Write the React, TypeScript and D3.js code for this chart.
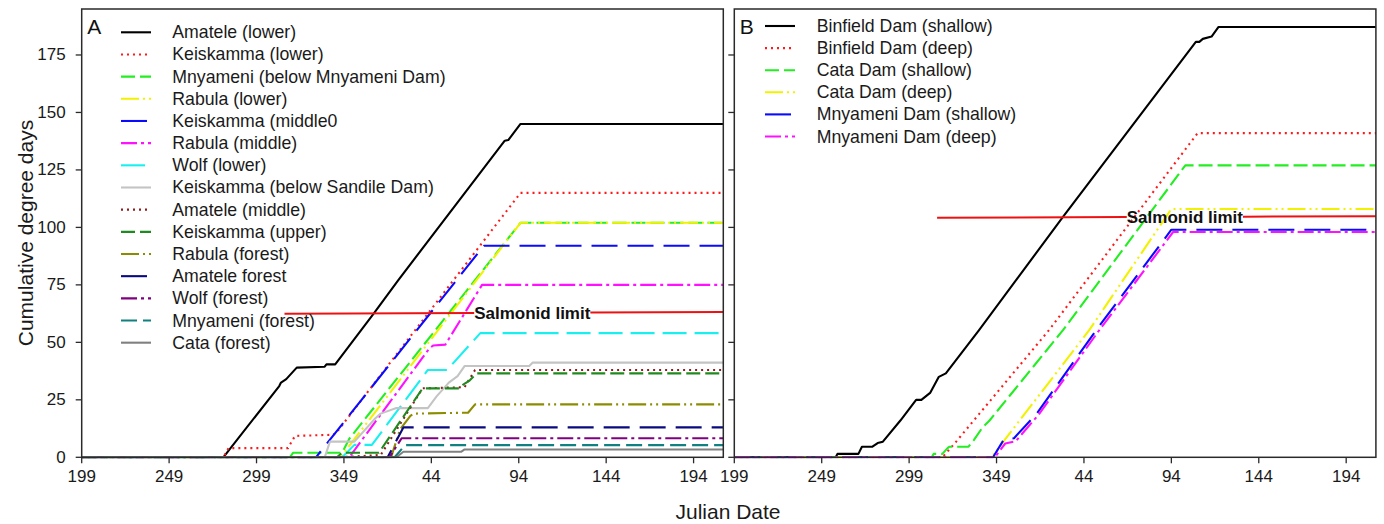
import React, { useRef, useEffect } from "react";
import * as d3 from "d3";

// ---------- axis ticks ----------
const xTickValues = [199, 249, 299, 349, 399, 449, 499, 549];
const xTickLabels = ["199", "249", "299", "349", "44", "94", "144", "194"];
const yTickValues = [0, 25, 50, 75, 100, 125, 150, 175];
const xDomain = [199, 566];
const yDomain = [0, 195];

// ---------- Panel A series: [sequential day, cumulative degree days] ----------
const amateleLower = [[199,0],[280,0],[312,31],[313,32.5],[316,34],[322,39],[338,39.4],[339,40.4],[344,40.4],[366,62.5],[380,77],[441,137.7],[443,138],[446,141],[450,145],[566,145]];
const keiskammaLower = [[199,0],[280,0],[283,4],[317,4],[321,9.3],[343,9.8],[346,12],[450,115],[566,115]];
const mnyameniBelowDam = [[199,0],[318,0],[320,2],[348,2],[352,8],[450,102],[566,102]];
const rabulaLower = [[199,0],[347,0],[450,102],[566,102]];
const keiskammaMiddle = [[199,0],[333,0],[429,92],[566,92]];
const rabulaMiddle = [[199,0],[352,0],[398,47.5],[400,48.6],[407,49],[428,75],[566,75]];
const wolfLower = [[199,0],[348,0],[355,5.4],[365,5.4],[397,38],[408,38],[427,54],[566,54]];
const keiskammaSandile = [[199,0],[338,0],[341,6.8],[355,6.8],[367,17],[370,19],[379,21.4],[397,21.4],[402,26.5],[409,32.5],[414,35.3],[418,39.7],[455,39.7],[457,41.2],[566,41.2]];
const amateleMiddle = [[199,0],[346,0],[370,1],[394,30],[418,30.5],[424,38],[566,38]];
const keiskammaUpper = [[199,0],[345,0],[348,2],[369,2],[394,30],[415,30],[417,31.5],[421,33.5],[425,36.5],[566,36.5]];
const rabulaForest = [[199,0],[376,0],[381,12],[387,18],[389,19],[420,19.4],[424,23],[566,23]];
const amateleForest = [[199,0],[374,0],[383,13],[566,13]];
const wolfForest = [[199,0],[375,0],[382,8.3],[566,8.3]];
const mnyameniForest = [[199,0],[378,0],[384,5.3],[566,5.3]];
const cataForest = [[199,0],[379,0],[383,2.4],[416,2.4],[418,3.4],[566,3.4]];

// ---------- Panel B series ----------
const binfieldShallow = [[199,0],[257,0],[258,1.5],[270,1.5],[272,4.6],[278,4.6],[281,6.2],[284,6.8],[294,16],[303,25],[306,25],[311,28],[316,35],[320,36.5],[339,55.3],[387,104.6],[463,180.7],[465,180.7],[467,182],[472,183],[476,187.2],[566,187.2]];
const binfieldDeep = [[199,0],[318,0],[325,6],[379,55.3],[464,141],[566,141]];
const cataShallow = [[199,0],[312,0],[313,1.5],[318,1.5],[321,4],[322,4.6],[333,4.6],[336,7.5],[341,13],[345,16],[387,55.3],[457,127],[566,127]];
const cataDeep = [[199,0],[346,0],[402,55.3],[449,108],[566,108]];
const mnyameniShallow = [[199,0],[347,0],[353,7.5],[359,8.3],[372,19],[406,55.3],[449,99],[566,99]];
const mnyameniDeep = [[199,0],[348,0],[354,6],[360,7],[373,18.5],[407,54.5],[450,98],[566,98]];

// ---------- Salmonid limit lines ----------
const salmonidA = [[315, 62.4], [566, 63.2]];
const salmonidB = [[315, 104.2], [566, 104.9]];
const salmonidLabelDay = 423.5;
const salmonidLabel = "Salmonid limit";

// ---------- series names & styles ----------
const namesA = ["Amatele (lower)", "Keiskamma (lower)", "Mnyameni (below Mnyameni Dam)", "Rabula (lower)", "Keiskamma (middle0", "Rabula (middle)", "Wolf (lower)", "Keiskamma (below Sandile Dam)", "Amatele (middle)", "Keiskamma (upper)", "Rabula (forest)", "Amatele forest", "Wolf (forest)", "Mnyameni (forest)", "Cata (forest)"];
const dataA = [amateleLower, keiskammaLower, mnyameniBelowDam, rabulaLower, keiskammaMiddle, rabulaMiddle, wolfLower, keiskammaSandile, amateleMiddle, keiskammaUpper, rabulaForest, amateleForest, wolfForest, mnyameniForest, cataForest];
const colorsA = ["#000000", "#ff1a1a", "#22ee22", "#f2f200", "#0a0aff", "#ff10ff", "#18f0f0", "#c4c4c4", "#8e1d1d", "#1f8a1f", "#8c8c00", "#0a0a80", "#800080", "#108080", "#808080"];
const dashesA = ["none", "2,4", "14,5", "18,4,2,4,2,4", "26,10", "16,4,3,4", "24,8", "none", "2,4", "14,5", "18,4,2,4,2,4", "26,10", "16,4,3,4", "16,6", "none"];

const namesB = ["Binfield Dam (shallow)", "Binfield Dam (deep)", "Cata Dam (shallow)", "Cata Dam (deep)", "Mnyameni Dam (shallow)", "Mnyameni Dam (deep)"];
const dataB = [binfieldShallow, binfieldDeep, cataShallow, cataDeep, mnyameniShallow, mnyameniDeep];
const colorsB = ["#000000", "#ff1a1a", "#22ee22", "#f2f200", "#0a0aff", "#ff10ff"];
const dashesB = ["none", "2,4", "14,5", "18,4,2,4,2,4", "26,10", "16,4,3,4"];

const FONT = "'Liberation Sans', Arial, sans-serif";

export default function App() {
  const ref = useRef<SVGSVGElement>(null);

  useEffect(() => {
    document.body.style.margin = "0";
    const svg = d3.select(ref.current as SVGSVGElement);
    svg.selectAll("*").remove();

    const top = 9, bottom = 457.3;
    const y = d3.scaleLinear().domain(yDomain).range([bottom, top]);

    const panels = [
      { x0: 81.7, x1: 723.3, names: namesA, data: dataA, colors: colorsA, dashes: dashesA, letter: "A", yLabels: true, salmonid: salmonidA, legX: 121, legTextX: 172.3, legY: 32.3, legDy: 22.17 },
      { x0: 734.3, x1: 1375.9, names: namesB, data: dataB, colors: colorsB, dashes: dashesB, letter: "B", yLabels: false, salmonid: salmonidB, legX: 765, legTextX: 816.7, legY: 26, legDy: 22.1 },
    ];

    panels.forEach((p, pi) => {
      const x = d3.scaleLinear().domain(xDomain).range([p.x0, p.x1]);
      const g = svg.append("g");
      const clipId = "clip" + pi;
      svg.append("clipPath").attr("id", clipId).append("rect")
        .attr("x", p.x0).attr("y", top).attr("width", p.x1 - p.x0).attr("height", bottom - top + 1);

      const line = d3.line<number[]>().x((d) => x(d[0])).y((d) => y(d[1]));
      const lg = g.append("g").attr("clip-path", `url(#${clipId})`);
      p.data.forEach((s, i) => {
        lg.append("path").attr("d", line(s as any) as string)
          .attr("fill", "none").attr("stroke", p.colors[i]).attr("stroke-width", 2.1)
          .attr("stroke-dasharray", p.dashes[i]).attr("stroke-linejoin", "round");
      });

      // salmonid limit
      const sl = d3.scaleLinear().domain([p.salmonid[0][0], p.salmonid[1][0]]).range([p.salmonid[0][1], p.salmonid[1][1]]);
      const lx = x(salmonidLabelDay);
      const txt = g.append("text").attr("x", lx).attr("y", y(sl(salmonidLabelDay)))
        .attr("dominant-baseline", "central").attr("font-family", FONT).attr("font-size", 17)
        .attr("font-weight", "bold").attr("fill", "#111").text(salmonidLabel);
      const tl = (txt.node() as SVGTextElement).getComputedTextLength();
      const dEnd = x.invert(lx + tl);
      const segs = [[p.salmonid[0][0], salmonidLabelDay], [dEnd, p.salmonid[1][0]]];
      segs.forEach((sg) => {
        lg.append("line").attr("x1", x(sg[0])).attr("y1", y(sl(sg[0])))
          .attr("x2", x(sg[1])).attr("y2", y(sl(sg[1])))
          .attr("stroke", "#ee1111").attr("stroke-width", 2);
      });
      txt.raise();

      // frame
      g.append("rect").attr("x", p.x0).attr("y", top).attr("width", p.x1 - p.x0).attr("height", bottom - top)
        .attr("fill", "none").attr("stroke", "#2a2a2a").attr("stroke-width", 1.5);

      // x ticks
      const xt = g.append("g");
      xTickValues.forEach((v, i) => {
        xt.append("line").attr("x1", x(v)).attr("x2", x(v)).attr("y1", bottom).attr("y2", bottom + 6)
          .attr("stroke", "#2a2a2a").attr("stroke-width", 1.3);
        xt.append("text").attr("x", x(v)).attr("y", 476).attr("text-anchor", "middle")
          .attr("dominant-baseline", "central").attr("font-family", FONT).attr("font-size", 17)
          .attr("fill", "#1a1a1a").text(xTickLabels[i]);
      });
      // y ticks
      yTickValues.forEach((v) => {
        g.append("line").attr("x1", p.x0 - 6).attr("x2", p.x0).attr("y1", y(v)).attr("y2", y(v))
          .attr("stroke", "#2a2a2a").attr("stroke-width", 1.3);
        if (p.yLabels) {
          g.append("text").attr("x", p.x0 - 16).attr("y", y(v)).attr("text-anchor", "end")
            .attr("dominant-baseline", "central").attr("font-family", FONT).attr("font-size", 17)
            .attr("fill", "#1a1a1a").text(String(v));
        }
      });

      // panel letter
      g.append("text").attr("x", p.x0 + 5.5).attr("y", 34.3).attr("font-family", FONT).attr("font-size", 21)
        .attr("fill", "#111").text(p.letter);

      // legend
      p.names.forEach((n, i) => {
        const ly = p.legY + i * p.legDy;
        g.append("line").attr("x1", p.legX).attr("x2", p.legX + 30).attr("y1", ly).attr("y2", ly)
          .attr("stroke", p.colors[i]).attr("stroke-width", 2.1).attr("stroke-dasharray", p.dashes[i]);
        g.append("text").attr("x", p.legTextX).attr("y", ly).attr("dominant-baseline", "central")
          .attr("font-family", FONT).attr("font-size", 17.7).attr("fill", "#1a1a1a").text(n);
      });
    });

    // axis titles
    svg.append("text").attr("x", 728).attr("y", 511).attr("text-anchor", "middle").attr("dominant-baseline", "central")
      .attr("font-family", FONT).attr("font-size", 21).attr("fill", "#1a1a1a").text("Julian Date");
    svg.append("text").attr("transform", `translate(25,233) rotate(-90)`).attr("text-anchor", "middle")
      .attr("dominant-baseline", "central").attr("font-family", FONT).attr("font-size", 21)
      .attr("fill", "#1a1a1a").text("Cumulative degree days");
  }, []);

  return <svg ref={ref} width={1384} height={524} style={{ display: "block", background: "#fff" }} />;
}
